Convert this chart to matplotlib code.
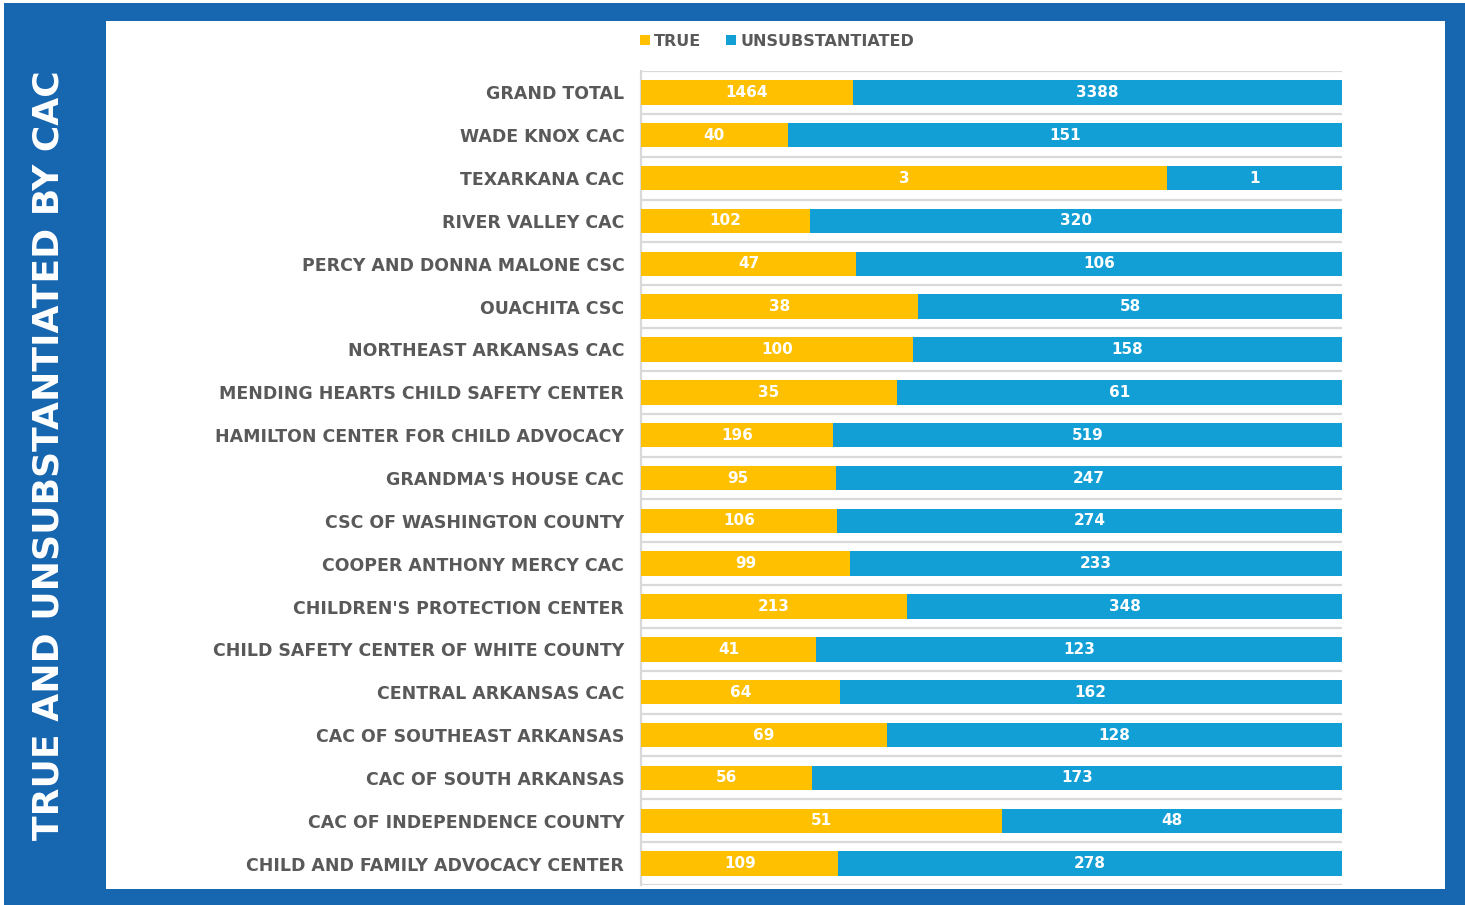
import matplotlib.pyplot as plt
from matplotlib.patches import Rectangle

# Categories top to bottom as in the chart
centers = ['GRAND TOTAL', 'WADE KNOX CAC', 'TEXARKANA CAC', 'RIVER VALLEY CAC',
           'PERCY AND DONNA MALONE CSC', 'OUACHITA CSC', 'NORTHEAST ARKANSAS CAC',
           'MENDING HEARTS CHILD SAFETY CENTER', 'HAMILTON CENTER FOR CHILD ADVOCACY',
           "GRANDMA'S HOUSE CAC", 'CSC OF WASHINGTON COUNTY', 'COOPER ANTHONY MERCY CAC',
           "CHILDREN'S PROTECTION CENTER", 'CHILD SAFETY CENTER OF WHITE COUNTY',
           'CENTRAL ARKANSAS CAC', 'CAC OF SOUTHEAST ARKANSAS', 'CAC OF SOUTH ARKANSAS',
           'CAC OF INDEPENDENCE COUNTY', 'CHILD AND FAMILY ADVOCACY CENTER']
true_counts = [1464, 40, 3, 102, 47, 38, 100, 35, 196, 95, 106, 99, 213, 41, 64, 69, 56, 51, 109]
unsub_counts = [3388, 151, 1, 320, 106, 58, 158, 61, 519, 247, 274, 233, 348, 123, 162, 128, 173, 48, 278]

GOLD = '#FFC000'
BLUE = '#119FD6'
FRAME = '#1766B0'
GREY = '#595959'

W, H = 1465, 905
fig = plt.figure(figsize=(W / 100, H / 100), dpi=100)

# blue frame with white panel
fig.add_artist(Rectangle((4 / W, 0), 1461 / W, 902 / H, transform=fig.transFigure,
                         facecolor=FRAME, edgecolor='none', zorder=0))
fig.add_artist(Rectangle((106 / W, 16 / H), 1339 / W, 868 / H, transform=fig.transFigure,
                         facecolor='white', edgecolor='none', zorder=0))

fig.text(49 / W, 1 - 455 / H, 'TRUE AND UNSUBSTANTIATED BY CAC', rotation=90,
         color='white', fontsize=26, fontweight='bold', ha='center', va='center')

ax = fig.add_axes([641 / W, 20 / H, 701 / W, 814 / H])
ax.set_facecolor('none')

n = len(centers)
ypos = list(range(n))
totals = [t + u for t, u in zip(true_counts, unsub_counts)]
true_share = [t / s for t, s in zip(true_counts, totals)]
unsub_share = [u / s for u, s in zip(unsub_counts, totals)]

b1 = ax.barh(ypos, true_share, height=0.57, color=GOLD, label='TRUE', zorder=3)
b2 = ax.barh(ypos, unsub_share, left=true_share, height=0.57, color=BLUE,
             label='UNSUBSTANTIATED', zorder=3)

# count labels in the middle of each segment
for i in range(n):
    ax.text(true_share[i] / 2, i, str(true_counts[i]), ha='center', va='center',
            color='white', fontsize=11, fontweight='bold', zorder=4)
    ax.text(true_share[i] + unsub_share[i] / 2, i, str(unsub_counts[i]), ha='center',
            va='center', color='white', fontsize=11, fontweight='bold', zorder=4)

ax.set_xlim(0, 1)
ax.set_ylim(n - 0.5, -0.5)
ax.set_yticks(ypos)
ax.set_yticklabels(centers, fontsize=12.5, fontweight='bold', color=GREY)
ax.tick_params(axis='y', length=0, pad=12)
ax.set_xticks([])

# separators between rows
for b in range(n + 1):
    ax.axhline(b - 0.5, color='#d9d9d9', lw=1.6, zorder=1)
for s in ['top', 'right', 'bottom']:
    ax.spines[s].set_visible(False)
ax.spines['left'].set_color('#d9d9d9')
ax.spines['left'].set_linewidth(1.6)

fig.legend(handles=[b1, b2], loc='center', bbox_to_anchor=(777 / W, 1 - 41 / H),
           ncol=2, frameon=False, handlelength=0.6, handleheight=0.6,
           handletextpad=0.25, columnspacing=1.6,
           prop={'size': 11.5, 'weight': 'bold'}, labelcolor=GREY)

fig.savefig('out.png', dpi=100)
